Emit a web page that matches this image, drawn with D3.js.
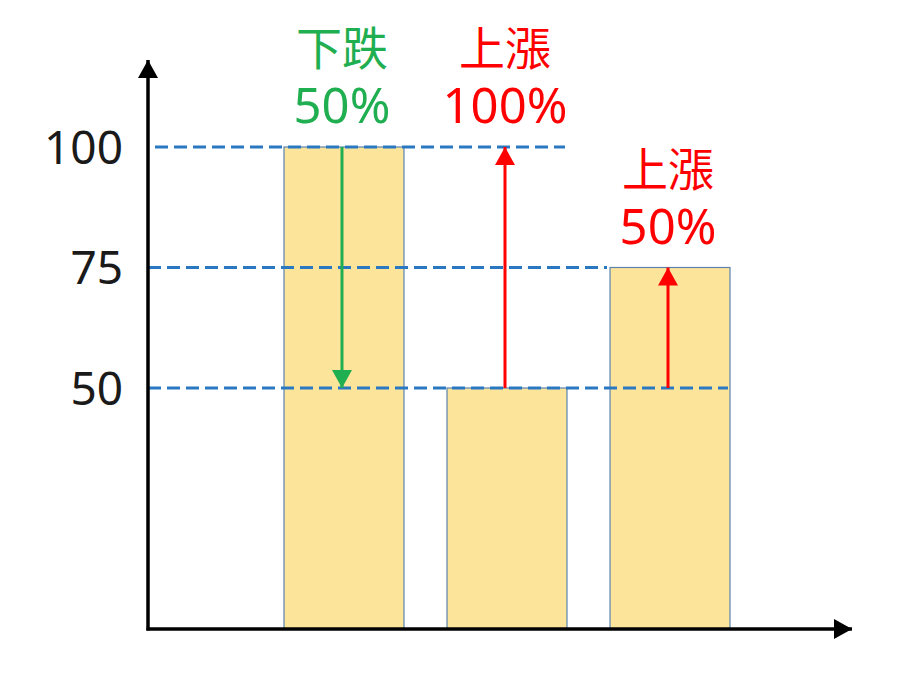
<!DOCTYPE html>
<html>
<head>
<meta charset="utf-8">
<script src="https://cdn.jsdelivr.net/npm/d3@7"></script>
<style>
  body { margin: 0; background: #fff; }
  text { font-family: "Noto Sans", "Noto Sans CJK TC", sans-serif; }
</style>
</head>
<body>
<div id="chart"></div>
<script>
// Data
let categories = ["起始", "下跌後", "上漲後"];
let prices = [100, 50, 75];
let tickValues = [100, 75, 50];

// dashed reference lines: level and the category whose edge they stop at
let refLevels = [100, 75, 50];
let refStopBar = [1, 2, 2];
let refStopSide = ["right", "left", "right"];

// change arrows: from value, to value, which bar they sit on
let moveFrom = [100, 50, 50];
let moveTo = [50, 100, 75];
let moveBar = [0, 1, 2];
let moveWord = ["下跌", "上漲", "上漲"];
let movePct = ["50%", "100%", "50%"];
let moveColor = ["#1fae50", "#ff0000", "#ff0000"];

// Set up chart
let svgWidth = 900;
let svgHeight = 675;
let x0 = 148, y0 = 629;

let svg = d3.select("#chart")
    .append("svg")
    .attr("width", svgWidth)
    .attr("height", svgHeight);

let defs = svg.append("defs");
function arrowMarker(id, color, w, h) {
    defs.append("marker")
        .attr("id", id)
        .attr("viewBox", `0 0 ${h} ${w}`)
        .attr("refX", h)
        .attr("refY", w / 2)
        .attr("markerUnits", "userSpaceOnUse")
        .attr("markerWidth", h)
        .attr("markerHeight", w)
        .attr("orient", "auto")
        .append("path")
        .attr("d", `M0,0 L${h},${w / 2} L0,${w} Z`)
        .attr("fill", color);
}
arrowMarker("axisArrow", "#000", 20, 18);
arrowMarker("greenArrow", "#1fae50", 20, 18);
arrowMarker("redArrow", "#ff0000", 20, 18);

// Scales
let xScale = d3.scaleBand()
    .domain(categories)
    .range([284, 730])
    .paddingInner(0.264)
    .paddingOuter(0);

let yScale = d3.scaleLinear()
    .domain([0, 100])
    .range([y0, 147]);

// Bars
svg.selectAll(".bar")
    .data(prices)
    .enter()
    .append("rect")
    .attr("class", "bar")
    .attr("x", (d, i) => xScale(categories[i]))
    .attr("y", d => yScale(d))
    .attr("width", xScale.bandwidth())
    .attr("height", d => y0 - yScale(d))
    .attr("fill", "#fde49b")
    .attr("stroke", "#5b83ad")
    .attr("stroke-width", 1.2);

// Dashed reference lines
svg.selectAll(".ref")
    .data(refLevels)
    .enter()
    .append("line")
    .attr("class", "ref")
    .attr("x1", (d, i) => i === 0 ? x0 + 7 : x0)
    .attr("x2", function (d, i) {
        let left = xScale(categories[refStopBar[i]]);
        return refStopSide[i] === "left" ? left - 3 : left + xScale.bandwidth() - 2;
    })
    .attr("y1", d => yScale(d))
    .attr("y2", d => yScale(d))
    .attr("stroke", "#2a78c2")
    .attr("stroke-width", 3.2)
    .attr("stroke-dasharray", "13,6");

// Y axis labels
let yAxis = d3.axisLeft(yScale)
    .tickValues(tickValues)
    .tickSize(0)
    .tickPadding(25);

let yAxisG = svg.append("g")
    .attr("transform", `translate(${x0},0)`)
    .call(yAxis);
yAxisG.select(".domain").remove();
yAxisG.selectAll("text")
    .attr("font-size", 46)
    .attr("fill", "#1a1a1a")
    .attr("dy", "0.35em")
    .style("font-family", "'Noto Sans', sans-serif");

// Axis lines with arrows
svg.append("line")
    .attr("x1", x0).attr("y1", y0 + 1.5)
    .attr("x2", x0).attr("y2", 60)
    .attr("stroke", "#000")
    .attr("stroke-width", 3.5)
    .attr("marker-end", "url(#axisArrow)");

svg.append("line")
    .attr("x1", x0 - 1.5).attr("y1", y0)
    .attr("x2", 852).attr("y2", y0)
    .attr("stroke", "#000")
    .attr("stroke-width", 3.5)
    .attr("marker-end", "url(#axisArrow)");

// Change arrows
moveFrom.forEach(function (from, i) {
    let cx = xScale(categories[moveBar[i]]) + xScale.bandwidth() / 2 - 2;
    svg.append("line")
        .attr("x1", cx).attr("y1", yScale(from))
        .attr("x2", cx).attr("y2", yScale(moveTo[i]))
        .attr("stroke", moveColor[i])
        .attr("stroke-width", 3)
        .attr("marker-end", moveColor[i] === "#ff0000" ? "url(#redArrow)" : "url(#greenArrow)");

    // two-line label above the higher end
    let top = yScale(Math.max(from, moveTo[i]));
    let label = svg.append("text")
        .attr("x", cx)
        .attr("y", top - 82)
        .attr("text-anchor", "middle")
        .attr("fill", moveColor[i]);
    label.append("tspan")
        .attr("x", cx)
        .attr("font-size", 46)
        .style("font-family", "'Noto Sans CJK TC', sans-serif")
        .text(moveWord[i]);
    label.append("tspan")
        .attr("x", cx)
        .attr("dy", 58)
        .attr("font-size", 49)
        .text(movePct[i]);
});
</script>
</body>
</html>
